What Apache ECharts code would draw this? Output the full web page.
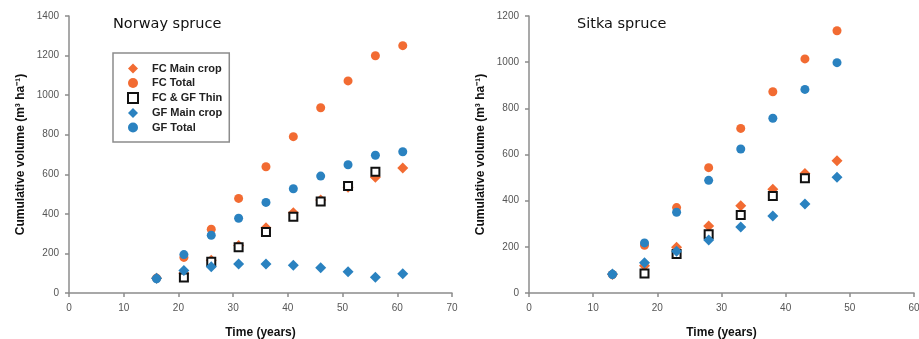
<!DOCTYPE html>
<html>
<head>
<meta charset="utf-8">
<script src="https://cdn.jsdelivr.net/npm/echarts@6/dist/echarts.min.js"></script>
<style>
  html, body { margin: 0; padding: 0; background: #fff; }
  #chart { width: 919px; height: 339px; }
</style>
</head>
<body>
<div id="chart"></div>
<script>
// Norway spruce (left)
const nsYears = [16, 21, 26, 31, 36, 41, 46, 51, 56, 61];
const nsFcMain = [75, 100, 165, 240, 330, 405, 470, 535, 585, 632];
const nsFcTotal = [75, 180, 322, 478, 638, 790, 936, 1072, 1199, 1250];
const nsThinYears = [21, 26, 31, 36, 41, 46, 51, 56];
const nsThin = [78, 158, 231, 308, 386, 463, 541, 613];
const nsGfMain = [74, 114, 133, 147, 147, 140, 128, 107, 79, 97];
const nsGfTotal = [72, 194, 292, 378, 458, 527, 591, 648, 696, 714];

// Sitka spruce (right)
const ssYears = [13, 18, 23, 28, 33, 38, 43, 48];
const ssFcMain = [80, 118, 198, 290, 378, 450, 518, 573];
const ssFcTotal = [80, 207, 370, 543, 713, 872, 1014, 1136];
const ssThinYears = [18, 23, 28, 33, 38, 43];
const ssThin = [84, 169, 254, 338, 420, 497];
const ssGfMain = [82, 131, 181, 230, 286, 334, 386, 501];
const ssGfTotal = [80, 217, 350, 488, 624, 757, 882, 998];

const seriesNames = ['FC Main crop', 'FC Total', 'FC & GF Thin', 'GF Main crop', 'GF Total'];

const ORANGE = '#f26b32';
const BLUE = '#2a82c0';

const pairs = (xs, ys) => xs.map((x, i) => [x, ys[i]]);

const styles = [
  { symbol: 'diamond', symbolSize: 11, itemStyle: { color: ORANGE, opacity: 1 } },
  { symbol: 'circle', symbolSize: 9, itemStyle: { color: ORANGE, opacity: 1 } },
  { symbol: 'rect', symbolSize: 8, itemStyle: { color: '#fff', borderColor: '#111', borderWidth: 2, opacity: 1 } },
  { symbol: 'diamond', symbolSize: 11, itemStyle: { color: BLUE, opacity: 1 } },
  { symbol: 'circle', symbolSize: 9, itemStyle: { color: BLUE, opacity: 1 } },
];

function makeSeries(gridIdx, data) {
  return data.map((d, i) => Object.assign({
    name: seriesNames[i],
    type: 'scatter',
    xAxisIndex: gridIdx,
    yAxisIndex: gridIdx,
    data: d,
    z: 2 + i,
  }, styles[i]));
}

const axisLine = { show: true, lineStyle: { color: '#8c8c8c', width: 1.5 } };
const axisTick = { show: true, length: 4, lineStyle: { color: '#8c8c8c', width: 1.5 } };
const axisLabel = { color: '#555', fontSize: 10, fontFamily: 'Liberation Sans, Arial', formatter: v => String(v) };
const nameStyle = { color: '#111', fontSize: 12, fontWeight: 'bold', fontFamily: 'Liberation Sans, Arial' };

function xAxis(gridIndex, max) {
  return {
    type: 'value', gridIndex, min: 0, max, interval: 10,
    axisLine, axisTick, axisLabel: Object.assign({ margin: 10 }, axisLabel),
    splitLine: { show: false },
    name: 'Time (years)', nameLocation: 'middle', nameGap: 34, nameTextStyle: nameStyle,
  };
}

function yAxis(gridIndex, max) {
  return {
    type: 'value', gridIndex, min: 0, max, interval: 200,
    axisLine, axisTick, axisLabel: Object.assign({ margin: 10 }, axisLabel),
    splitLine: { show: false },
    name: 'Cumulative volume (m³ ha⁻¹)', nameLocation: 'middle', nameGap: 42, nameTextStyle: nameStyle,
  };
}

const chart = echarts.init(document.getElementById('chart'));
chart.setOption({
  animation: false,
  backgroundColor: '#fff',
  title: [
    { text: 'Norway spruce', left: 108, top: 12, textStyle: { fontSize: 14.5, fontWeight: 'normal', color: '#111', fontFamily: 'DejaVu Sans' } },
    { text: 'Sitka spruce', left: 572, top: 12, textStyle: { fontSize: 14.5, fontWeight: 'normal', color: '#111', fontFamily: 'DejaVu Sans' } },
  ],
  legend: {
    data: seriesNames,
    orient: 'vertical',
    left: 113,
    top: 53,
    padding: [10, 7, 9, 14],
    itemWidth: 10,
    itemHeight: 10,
    itemGap: 3.5,
    backgroundColor: '#fff',
    borderColor: '#8c8c8c',
    borderWidth: 1.5,
    textStyle: { fontSize: 11, fontWeight: 'bold', color: '#222', fontFamily: 'Liberation Sans, Arial', lineHeight: 9, padding: [0, 0, 0, 9] },
  },
  grid: [
    { left: 69, right: 467, top: 16, bottom: 46, outerBoundsMode: 'none', containLabel: false },
    { left: 529, right: 5, top: 16, bottom: 46, outerBoundsMode: 'none', containLabel: false },
  ],
  xAxis: [xAxis(0, 70), xAxis(1, 60)],
  yAxis: [yAxis(0, 1400), yAxis(1, 1200)],
  series: [
    ...makeSeries(0, [
      pairs(nsYears, nsFcMain),
      pairs(nsYears, nsFcTotal),
      pairs(nsThinYears, nsThin),
      pairs(nsYears, nsGfMain),
      pairs(nsYears, nsGfTotal),
    ]),
    ...makeSeries(1, [
      pairs(ssYears, ssFcMain),
      pairs(ssYears, ssFcTotal),
      pairs(ssThinYears, ssThin),
      pairs(ssYears, ssGfMain),
      pairs(ssYears, ssGfTotal),
    ]),
  ],
});
</script>
</body>
</html>
